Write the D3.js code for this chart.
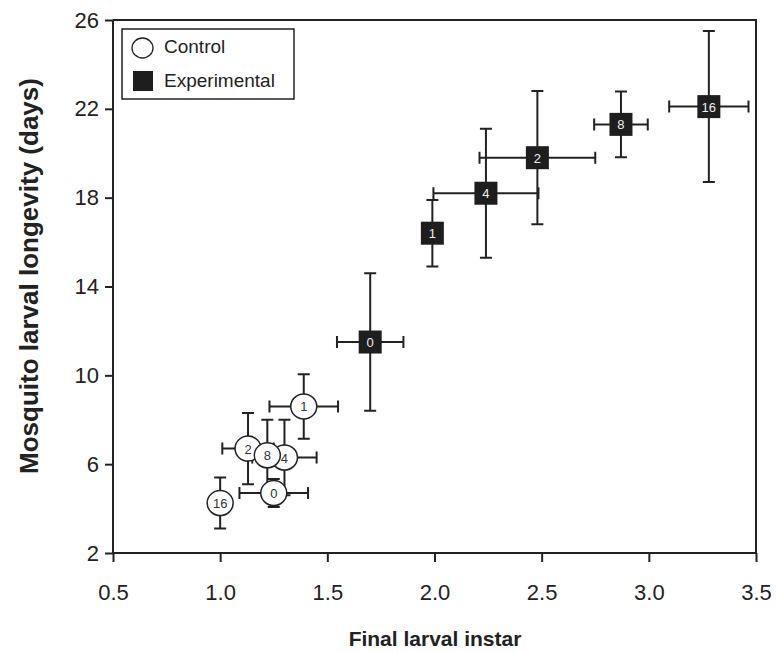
<!DOCTYPE html>
<html>
<head>
<meta charset="utf-8">
<script src="https://cdn.jsdelivr.net/npm/d3@7/dist/d3.min.js"></script>
<style>
  body { margin: 0; background: #fff; }
  svg { display: block; }
</style>
</head>
<body>
<svg id="mySvg" width="776" height="652"></svg>
<script>
// Data: dose labels, mean instar (x), mean longevity (y) and their errors
const controlLabels = ["1", "2", "4", "0", "16", "8"];
const controlX      = [1.39, 1.13, 1.30, 1.25, 1.00, 1.22];
const controlXErr   = [0.16, 0.12, 0.15, 0.16, 0.0, 0.10];
const controlY      = [8.6, 6.7, 6.3, 4.7, 4.25, 6.4];
const controlYErr   = [1.45, 1.6, 1.7, 0.63, 1.15, 1.6];

const expLabels = ["0", "1", "4", "2", "8", "16"];
const expX      = [1.70, 1.99, 2.24, 2.48, 2.87, 3.28];
const expXErr   = [0.155, 0.0, 0.245, 0.27, 0.125, 0.185];
const expY      = [11.5, 16.4, 18.2, 19.8, 21.3, 22.1];
const expYErr   = [3.1, 1.5, 2.9, 3.0, 1.48, 3.4];

const xTicks = [0.5, 1.0, 1.5, 2.0, 2.5, 3.0, 3.5];
const yTicks = [2, 6, 10, 14, 18, 22, 26];

const svg = d3.select("#mySvg");
svg.selectAll("*").remove();

const mLeft = 113, mRight = 756, mTop = 20, mBottom = 553;
const ink = "#222";
const font = "Liberation Sans, Arial, sans-serif";

const x = d3.scaleLinear().domain([0.5, 3.5]).range([mLeft, mRight]);
const y = d3.scaleLinear().domain([2, 26]).range([mBottom, mTop]);

// Frame (top and right)
svg.append("path")
  .attr("d", `M${mLeft},${mTop}H${mRight}V${mBottom}`)
  .attr("fill", "none")
  .attr("stroke", ink)
  .attr("stroke-width", 2);

// Axes
const xAxis = svg.append("g")
  .attr("transform", `translate(0,${mBottom})`)
  .call(d3.axisBottom(x).tickValues(xTicks).tickFormat(d3.format(".1f")).tickSize(9).tickPadding(22));
const yAxis = svg.append("g")
  .attr("transform", `translate(${mLeft},0)`)
  .call(d3.axisLeft(y).tickValues(yTicks).tickSize(8).tickPadding(6));

[xAxis, yAxis].forEach(g => {
  g.select(".domain").attr("stroke", ink).attr("stroke-width", 2);
  g.selectAll(".tick line").attr("stroke", ink).attr("stroke-width", 2);
  g.selectAll(".tick text")
    .attr("fill", ink)
    .attr("font-family", font)
    .attr("font-size", "22px");
});
xAxis.select(".domain").attr("d", `M${mLeft},0H${mRight}`);
yAxis.select(".domain").attr("d", `M0,${mBottom}V${mTop}`);

// Axis titles
svg.append("text")
  .attr("x", 435).attr("y", 646)
  .attr("text-anchor", "middle")
  .attr("font-family", font)
  .attr("font-weight", "bold")
  .attr("font-size", "21px")
  .attr("fill", ink)
  .text("Final larval instar");

svg.append("text")
  .attr("transform", `translate(38,276) rotate(-90)`)
  .attr("text-anchor", "middle")
  .attr("font-family", font)
  .attr("font-weight", "bold")
  .attr("font-size", "26px")
  .attr("fill", ink)
  .text("Mosquito larval longevity (days)");

// Error bars
const cap = 6;
const drawErrors = (xs, xe, ys, ye) => {
  const g = svg.append("g").attr("stroke", ink).attr("stroke-width", 2).attr("fill", "none");
  xs.forEach((xv, i) => {
    const cx = x(xv), cy = y(ys[i]);
    const y1 = y(ys[i] + ye[i]), y2 = y(ys[i] - ye[i]);
    g.append("path").attr("d", `M${cx},${y1}V${y2}M${cx - cap},${y1}H${cx + cap}M${cx - cap},${y2}H${cx + cap}`);
    if (xe[i] > 0) {
      const x1 = x(xv - xe[i]), x2 = x(xv + xe[i]);
      g.append("path").attr("d", `M${x1},${cy}H${x2}M${x1},${cy - cap}V${cy + cap}M${x2},${cy - cap}V${cy + cap}`);
    }
  });
};
drawErrors(controlX, controlXErr, controlY, controlYErr);
drawErrors(expX, expXErr, expY, expYErr);

// Control markers
controlX.forEach((xv, i) => {
  svg.append("ellipse")
    .attr("cx", x(xv)).attr("cy", y(controlY[i]))
    .attr("rx", 13).attr("ry", 12.5)
    .attr("fill", "#fff").attr("stroke", ink).attr("stroke-width", 1.5);
  svg.append("text")
    .attr("x", x(xv)).attr("y", y(controlY[i]) + 5)
    .attr("text-anchor", "middle")
    .attr("font-family", font)
    .attr("font-size", "13px")
    .attr("fill", "#333")
    .text(controlLabels[i]);
});

// Experimental markers
const sq = 23;
expX.forEach((xv, i) => {
  svg.append("rect")
    .attr("x", x(xv) - sq / 2).attr("y", y(expY[i]) - sq / 2)
    .attr("width", sq).attr("height", sq)
    .attr("fill", "#1e1e1e");
  svg.append("text")
    .attr("x", x(xv)).attr("y", y(expY[i]) + 5)
    .attr("text-anchor", "middle")
    .attr("font-family", font)
    .attr("font-size", "13px")
    .attr("fill", "#eee")
    .text(expLabels[i]);
});

// Legend
const legend = svg.append("g");
legend.append("rect")
  .attr("x", 122).attr("y", 29).attr("width", 172).attr("height", 70)
  .attr("fill", "#fff").attr("stroke", ink).attr("stroke-width", 1.5);
legend.append("ellipse")
  .attr("cx", 142.5).attr("cy", 48).attr("rx", 10.5).attr("ry", 10)
  .attr("fill", "#fff").attr("stroke", ink).attr("stroke-width", 1.3);
legend.append("rect")
  .attr("x", 133).attr("y", 71).attr("width", 20).attr("height", 20)
  .attr("fill", "#1e1e1e");
legend.append("text")
  .attr("x", 164).attr("y", 53)
  .attr("font-family", font)
  .attr("font-size", "19px").attr("fill", ink)
  .text("Control");
legend.append("text")
  .attr("x", 164).attr("y", 87)
  .attr("font-family", font)
  .attr("font-size", "19px").attr("fill", ink)
  .text("Experimental");
</script>
</body>
</html>
